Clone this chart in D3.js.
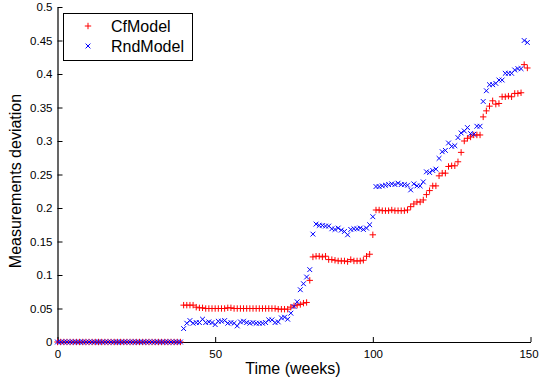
<!DOCTYPE html>
<html>
<head>
<meta charset="utf-8">
<script src="https://cdn.jsdelivr.net/npm/d3@7"></script>
<style>
  body { margin: 0; background: #fff; }
  text { font-family: "Liberation Sans", Arial, sans-serif; }
</style>
</head>
<body>
<div id="chart"></div>
<script>
// weeks 0..149, one measurement per week
var weeks = d3.range(0, 150);

var cfModel = [
  0,0,0,0,0,0,0,0,0,0, 0,0,0,0,0,0,0,0,0,0,
  0,0,0,0,0,0,0,0,0,0, 0,0,0,0,0,0,0,0,0,0,
  0.055,0.055,0.055,0.055,0.052,0.051,0.051,0.050,0.050,0.050,
  0.050,0.050,0.050,0.050,0.051,0.051,0.050,0.050,0.050,0.050,
  0.050,0.050,0.050,0.050,0.050,0.050,0.050,0.050,0.050,0.050,
  0.049,0.049,0.049,0.049,0.052,0.054,0.055,0.056,0.058,0.059,
  0.092,0.127,0.128,0.128,0.127,0.128,0.123,0.123,0.122,0.121,
  0.121,0.121,0.120,0.123,0.121,0.121,0.121,0.122,0.128,0.131,
  0.160,0.197,0.197,0.196,0.196,0.196,0.197,0.196,0.196,0.196,
  0.196,0.197,0.202,0.206,0.209,0.209,0.212,0.220,0.226,0.233,
  0.233,0.248,0.252,0.252,0.262,0.263,0.263,0.269,0.283,0.300,
  0.304,0.306,0.309,0.309,0.309,0.336,0.345,0.352,0.360,0.355,
  0.356,0.366,0.366,0.367,0.366,0.371,0.371,0.372,0.414,0.409
];

var rndModel = [
  0,0,0,0,0,0,0,0,0,0, 0,0,0,0,0,0,0,0,0,0,
  0,0,0,0,0,0,0,0,0,0, 0,0,0,0,0,0,0,0,0,0,
  0.020,0.028,0.032,0.028,0.029,0.029,0.034,0.029,0.030,0.029,
  0.026,0.031,0.031,0.032,0.028,0.029,0.028,0.024,0.030,0.031,
  0.029,0.028,0.029,0.028,0.028,0.028,0.029,0.033,0.033,0.029,
  0.030,0.036,0.037,0.034,0.043,0.053,0.060,0.078,0.087,0.097,
  0.108,0.161,0.176,0.174,0.174,0.173,0.173,0.169,0.168,0.170,
  0.167,0.165,0.160,0.168,0.169,0.169,0.170,0.168,0.170,0.175,
  0.187,0.232,0.232,0.233,0.234,0.235,0.236,0.235,0.237,0.235,
  0.235,0.234,0.227,0.236,0.233,0.233,0.239,0.254,0.253,0.256,
  0.258,0.274,0.284,0.286,0.297,0.292,0.293,0.305,0.312,0.315,
  0.320,0.311,0.310,0.322,0.322,0.359,0.375,0.384,0.384,0.386,
  0.391,0.391,0.401,0.401,0.401,0.406,0.408,0.408,0.450,0.447
];

var xTicks = [0, 50, 100, 150];
var yTicks = [0, 0.05, 0.1, 0.15, 0.2, 0.25, 0.3, 0.35, 0.4, 0.45, 0.5];
var seriesNames = ["CfModel", "RndModel"];

var w = 539, h = 379;
var margin = {left: 57.5, right: 8.5, top: 7, bottom: 37};

var x = d3.scaleLinear()
  .domain([0, 150])
  .range([margin.left, w - margin.right]);

var y = d3.scaleLinear()
  .domain([0, 0.5])
  .range([h - margin.bottom, margin.top]);

var svg = d3.select("#chart")
  .append("svg")
  .attr("width", w)
  .attr("height", h);

// axes, ticks pointing inward like matlab
var xAxis = svg.append("g")
  .attr("transform", "translate(0," + y(0) + ")")
  .call(d3.axisBottom(x).tickValues(xTicks).tickSizeInner(-5).tickSizeOuter(0).tickPadding(8));

var yAxis = svg.append("g")
  .attr("transform", "translate(" + x(0) + ",0)")
  .call(d3.axisLeft(y).tickValues(yTicks).tickSizeInner(-5).tickSizeOuter(0).tickPadding(5)
    .tickFormat(function(d) { return d3.format("")(+d.toFixed(2)); }));

svg.selectAll(".domain").attr("stroke", "#000").attr("stroke-width", 1.2);
svg.selectAll(".tick line").attr("stroke", "#000");
svg.selectAll(".tick text")
  .attr("fill", "#000")
  .style("font-size", "11.5px");

// last x label sits at the window edge, nudge it in
xAxis.selectAll(".tick text")
  .filter(function(d) { return d === 150; })
  .attr("dx", "-2");

// markers
var plus = "M-3.2,0H3.2M0,-3.2V3.2";
var cross = "M-2.4,-2.4L2.4,2.4M-2.4,2.4L2.4,-2.4";

svg.append("g").selectAll("path")
  .data(weeks)
  .enter()
  .append("path")
  .attr("d", plus)
  .attr("transform", function(d, i) { return "translate(" + x(d) + "," + y(cfModel[i]) + ")"; })
  .attr("stroke", "#ff0000")
  .attr("stroke-width", 1)
  .attr("fill", "none");

svg.append("g").selectAll("path")
  .data(weeks)
  .enter()
  .append("path")
  .attr("d", cross)
  .attr("transform", function(d, i) { return "translate(" + x(d) + "," + y(rndModel[i]) + ")"; })
  .attr("stroke", "#0000ff")
  .attr("stroke-width", 1)
  .attr("fill", "none");

// axis titles
svg.append("text")
  .attr("x", 293)
  .attr("y", 374)
  .attr("text-anchor", "middle")
  .style("font-size", "16px")
  .text("Time (weeks)");

svg.append("text")
  .attr("transform", "translate(21," + 181 + ") rotate(-90)")
  .attr("text-anchor", "middle")
  .style("font-size", "16px")
  .text("Measurements deviation");

// legend
var legend = svg.append("g");
legend.append("rect")
  .attr("x", 63.5).attr("y", 13.5)
  .attr("width", 129).attr("height", 47)
  .attr("fill", "#fff")
  .attr("stroke", "#000")
  .attr("stroke-width", 1);

legend.append("path")
  .attr("d", plus)
  .attr("transform", "translate(88,26)")
  .attr("stroke", "#ff0000").attr("fill", "none");
legend.append("path")
  .attr("d", cross)
  .attr("transform", "translate(88,46)")
  .attr("stroke", "#0000ff").attr("fill", "none");

legend.selectAll("text")
  .data(seriesNames)
  .enter()
  .append("text")
  .attr("x", 111)
  .attr("y", function(d, i) { return 32 + i * 20; })
  .style("font-size", "16px")
  .text(function(d) { return d; });
</script>
</body>
</html>
